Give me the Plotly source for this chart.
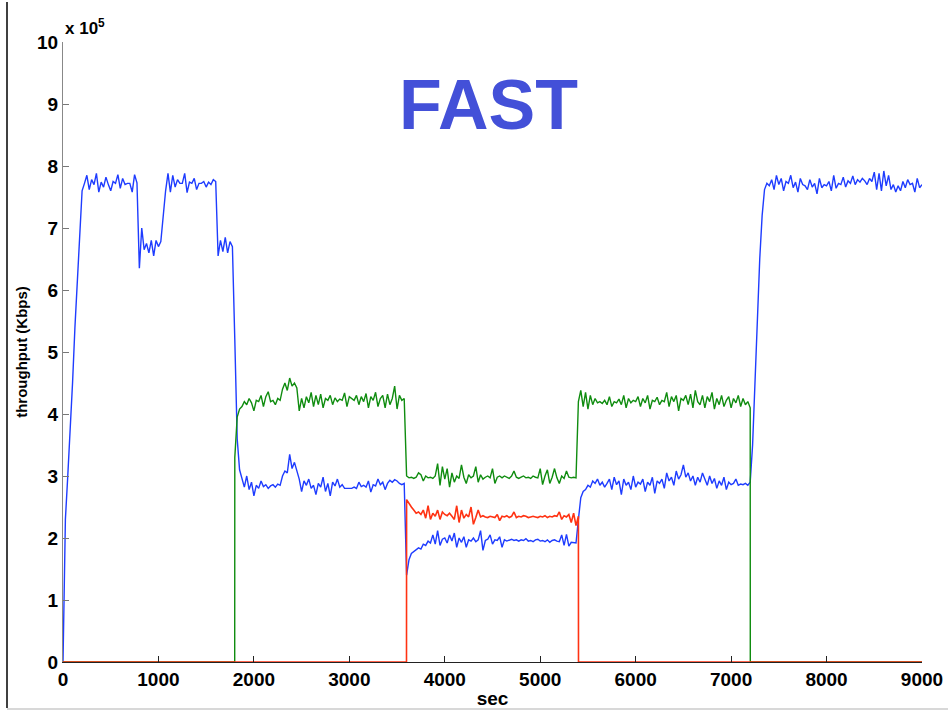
import plotly.graph_objects as go

# ---------------- data (throughput in units of 1e5 Kbps) ----------------
STEP = 25  # seconds between samples

# flow 1 (blue), t = 0 .. 9000
blue_values = [
    # 0-200 ramp
    0, 2.3, 3.0, 3.7, 4.5, 5.4, 6.1, 7.0, 7.6,
    # 225-775 plateau
    7.72, 7.85, 7.62, 7.78, 7.70, 7.88, 7.58, 7.74, 7.66, 7.82, 7.70, 7.60,
    7.75, 7.72, 7.86, 7.64, 7.80, 7.70, 7.72, 7.72, 7.58, 7.86, 7.73,
    # 800-1025 dip
    6.35, 7.0, 6.65, 6.75, 6.6, 6.8, 6.55, 6.8, 6.7, 6.78,
    # 1050-1100 rise
    7.2, 7.6, 7.88,
    # 1125-1600 plateau
    7.58, 7.85, 7.66, 7.78, 7.72, 7.72, 7.88, 7.57, 7.74, 7.72, 7.80, 7.62,
    7.72, 7.72, 7.75, 7.66, 7.74, 7.70, 7.78, 7.75,
    # 1625-1775 dip
    6.55, 6.8, 6.62, 6.85, 6.6, 6.78, 6.7,
    # 1800-3575
    5.2, 3.6, 3.1, 2.95, 2.82, 3.0, 2.78, 2.9, 2.68, 2.85, 2.8, 2.92,
    2.83, 2.86, 2.8, 2.84, 2.86, 2.82, 2.87, 2.85, 3.0, 3.08, 3.05, 3.35,
    3.12, 3.22, 3.1, 2.95, 2.75, 2.92, 2.85, 2.95, 2.8, 2.85, 2.7, 2.88,
    2.82, 2.98, 2.75, 2.88, 2.68, 2.9, 2.84, 2.95, 2.82, 2.86, 2.8, 2.8,
    2.79, 2.8, 2.82, 2.8, 2.9, 2.83, 2.85, 2.82, 2.92, 2.74, 2.86, 2.84,
    2.95, 2.86, 2.9, 2.78, 2.88, 2.93, 2.9, 2.94, 2.92, 2.88, 2.86, 2.88,
    # 3600-5375
    1.4, 1.65, 1.75, 1.78, 1.8, 1.84, 1.82, 1.9, 1.88, 1.95, 1.92, 2.05,
    1.9, 2.12, 1.88, 1.98, 2.0, 1.92, 2.05, 1.95, 2.08, 1.85, 2.0, 1.93,
    2.02, 1.85, 1.97, 1.95, 2.0, 1.94, 1.97, 2.12, 1.8, 1.96, 1.98, 2.05,
    1.9, 1.97, 1.96, 2.02, 1.85, 1.97, 1.95, 1.96, 1.98, 1.96, 1.97, 1.95,
    1.97, 1.96, 1.99, 1.95, 1.96, 1.94, 1.97, 1.98, 1.95, 1.96, 1.94, 1.97,
    1.93, 1.96, 1.97, 1.95, 1.94, 2.05, 1.88, 2.06, 1.87, 1.93, 1.92, 1.92,
    # 5400-7175
    2.3, 2.65, 2.75, 2.78, 2.85, 2.82, 2.92, 2.88, 2.95, 2.85, 2.9, 2.82,
    2.88, 2.95, 2.78, 2.98, 2.86, 2.92, 2.7, 2.95, 2.85, 2.9, 2.78, 3.0,
    2.82, 2.9, 2.87, 2.95, 2.75, 2.9, 2.85, 2.98, 2.72, 2.92, 2.88, 2.95,
    2.8, 3.05, 2.92, 2.98, 2.85, 3.08, 2.95, 3.02, 3.18, 2.98, 3.05, 2.92,
    3.0, 2.85, 2.98, 2.9, 3.05, 2.95, 2.85, 3.0, 2.88, 2.96, 2.8, 2.92,
    2.85, 2.98, 2.78, 2.9, 2.86, 2.88, 2.95, 2.85, 2.87, 2.86, 2.88, 2.85,
    # 7200-9000
    2.9, 3.5, 4.6, 5.6, 6.5, 7.2, 7.62, 7.72, 7.68, 7.78, 7.62, 7.85,
    7.7, 7.8, 7.6, 7.75, 7.72, 7.85, 7.65, 7.74, 7.58, 7.8, 7.7, 7.68,
    7.62, 7.78, 7.66, 7.72, 7.55, 7.8, 7.65, 7.7, 7.68, 7.75, 7.6, 7.85,
    7.64, 7.72, 7.7, 7.82, 7.66, 7.76, 7.72, 7.84, 7.7, 7.78, 7.74, 7.8,
    7.76, 7.7, 7.8, 7.75, 7.9, 7.62, 7.88, 7.6, 7.92, 7.68, 7.85, 7.62,
    7.7, 7.58, 7.68, 7.6, 7.75, 7.65, 7.78, 7.7, 7.72, 7.58, 7.8, 7.65,
    7.7,
]

# flow 2 (green), active from t = 1800 to 7200
green_start = 1800
green_values = [
    # 1800-3575
    3.3, 3.95, 4.08, 4.12, 4.2, 4.15, 4.25, 4.18, 4.05, 4.22, 4.2, 4.3,
    4.12, 4.28, 4.36, 4.2, 4.22, 4.15, 4.25, 4.22, 4.4, 4.5, 4.38, 4.58,
    4.45, 4.5, 4.42, 4.05, 4.25, 4.1, 4.28, 4.18, 4.35, 4.12, 4.3, 4.15,
    4.32, 4.1, 4.25, 4.22, 4.3, 4.15, 4.26, 4.2, 4.24, 4.22, 4.34, 4.12,
    4.28, 4.25, 4.22, 4.3, 4.15, 4.28, 4.2, 4.33, 4.1, 4.28, 4.22, 4.35,
    4.12, 4.25, 4.3, 4.1, 4.32, 4.15, 4.25, 4.45, 4.08, 4.3, 4.22, 4.25,
    # 3600-5375
    3.0, 2.97, 2.98, 2.96, 2.98, 3.05, 3.02, 2.92, 3.0, 2.97, 2.98, 2.96,
    3.0, 3.2, 2.85, 3.15, 2.95, 3.12, 2.82, 3.05, 2.9, 3.0, 2.96, 3.18,
    2.98, 2.88, 3.02, 2.97, 3.0, 3.15, 2.9, 3.02, 2.95, 2.98, 3.0, 2.97,
    3.12, 2.88, 2.98, 3.0, 2.97, 3.0, 2.98, 2.96, 3.0, 3.08, 2.98, 2.96,
    2.98, 3.0, 2.97, 2.98, 2.96, 3.0, 2.98, 2.97, 3.12, 2.86, 3.0, 3.1,
    2.88, 2.98, 3.12, 2.97, 2.88, 3.0, 2.96, 3.08, 2.98, 2.97, 2.98, 2.97,
    # 5400-7200
    4.2, 4.38, 4.12, 4.35, 4.08, 4.3, 4.15, 4.25, 4.18, 4.2, 4.17, 4.22,
    4.15, 4.28, 4.12, 4.2, 4.18, 4.24, 4.15, 4.3, 4.1, 4.25, 4.18, 4.22,
    4.2, 4.28, 4.12, 4.25, 4.18, 4.3, 4.08, 4.22, 4.2, 4.27, 4.15, 4.22,
    4.2, 4.35, 4.12, 4.28, 4.2, 4.3, 4.05, 4.25, 4.22, 4.3, 4.15, 4.32,
    4.1, 4.38, 4.2, 4.15, 4.3, 4.1, 4.28, 4.2, 4.35, 4.08, 4.25, 4.15,
    4.3, 4.12, 4.22, 4.28, 4.1, 4.25, 4.18, 4.3, 4.12, 4.25, 4.15, 4.2,
    4.1,
]

# flow 3 (red), active from t = 3600 to 5400
red_start = 3600
red_values = [
    2.62, 2.55, 2.5, 2.45, 2.4, 2.42, 2.38, 2.45, 2.32, 2.52, 2.3, 2.4,
    2.35, 2.45, 2.3, 2.42, 2.38, 2.36, 2.4, 2.35, 2.3, 2.52, 2.25, 2.45,
    2.32, 2.38, 2.34, 2.5, 2.22, 2.33, 2.45, 2.34, 2.36, 2.34, 2.33, 2.35,
    2.34, 2.33, 2.38, 2.28, 2.35, 2.34, 2.36, 2.33, 2.35, 2.42, 2.33, 2.35,
    2.34, 2.36, 2.35, 2.33, 2.34, 2.35, 2.34, 2.33, 2.35, 2.34, 2.36, 2.33,
    2.35, 2.34, 2.36, 2.35, 2.42, 2.3, 2.36, 2.34, 2.38, 2.25, 2.4, 2.2,
    2.35,
]

T_END = 9000
x_ticks = [0, 1000, 2000, 3000, 4000, 5000, 6000, 7000, 8000, 9000]
y_ticks = [0, 1, 2, 3, 4, 5, 6, 7, 8, 9, 10]
y_tick_labels = ["0", "1", "2", "3", "4", "5", "6", "7", "8", "9", "10"]

# ---------------- build series ----------------
blue_t = [STEP * i for i in range(len(blue_values))]


def active_series(start, values):
    seg_t = [start + STEP * i for i in range(len(values))]
    t = [0, start - 1] + seg_t + [seg_t[-1] + 1, T_END]
    v = [0, 0] + list(values) + [0, 0]
    return t, v


green_t, green_v = active_series(green_start, green_values)
red_t, red_v = active_series(red_start, red_values)

BLUE = "#1e3cff"
GREEN = "#0f8c0f"
RED = "#ff3212"

fig = go.Figure()
fig.add_trace(go.Scatter(x=blue_t, y=blue_values, mode="lines",
                         line=dict(color=BLUE, width=1.4), showlegend=False))
fig.add_trace(go.Scatter(x=green_t, y=green_v, mode="lines",
                         line=dict(color=GREEN, width=1.4), showlegend=False))
fig.add_trace(go.Scatter(x=red_t, y=red_v, mode="lines",
                         line=dict(color=RED, width=1.6), showlegend=False))

FONT = "Liberation Sans, Arial, sans-serif"

L, R, T, B = 63, 26, 42, 49
PW, PH = 948 - L - R, 711 - T - B

fig.update_layout(
    width=948, height=711,
    margin=dict(l=L, r=R, t=T, b=B, autoexpand=False),
    paper_bgcolor="white", plot_bgcolor="white",
    font=dict(family=FONT, color="black"),
    showlegend=False,
    xaxis=dict(
        range=[0, T_END], tickvals=x_ticks, automargin=False,
        ticks="inside", ticklen=6, tickcolor="#222", tickwidth=1,
        showline=True, linecolor="#222", linewidth=1,
        showgrid=False, zeroline=False,
        tickfont=dict(family=FONT, size=19, weight="bold", color="black"),
        title=dict(text="sec", font=dict(family=FONT, size=19, weight="bold", color="black"),
                   standoff=2),
    ),
    yaxis=dict(
        range=[0, 10], tickvals=y_ticks, ticktext=y_tick_labels, automargin=False,
        ticks="inside", ticklen=6, tickcolor="#777", tickwidth=1,
        showline=True, linecolor="#888", linewidth=1,
        showgrid=False, zeroline=False,
        tickfont=dict(family=FONT, size=19, weight="bold", color="black"),
        title=dict(text="throughput (Kbps)",
                   font=dict(family=FONT, size=15, weight="bold", color="black"),
                   standoff=5),
    ),
    annotations=[
        dict(text="FAST", xref="paper", yref="paper", x=(488 - L) / PW, y=(662 - 105) / PH,
             xanchor="center", yanchor="middle", showarrow=False,
             font=dict(family=FONT, size=70, weight="bold", color="#4350d8")),
        dict(text="x 10<sup>5</sup>", xref="paper", yref="paper", x=0, y=1,
             xanchor="left", yanchor="bottom", showarrow=False, yshift=2,
             font=dict(family=FONT, size=17, weight="bold", color="black")),
    ],
    shapes=[
        dict(type="line", xref="paper", yref="paper",
             x0=(7 - L) / PW, x1=(7 - L) / PW, y0=(662 - 708) / PH, y1=(662 - 2) / PH,
             line=dict(color="black", width=1.5)),
        dict(type="line", xref="paper", yref="paper",
             x0=(7 - L) / PW, x1=(948 - L) / PW, y0=(662 - 709) / PH, y1=(662 - 709) / PH,
             line=dict(color="#d8d8d8", width=2)),
    ],
)

fig.write_html("out.html", config={"displayModeBar": False},
               post_script="document.body.style.margin='0';")
